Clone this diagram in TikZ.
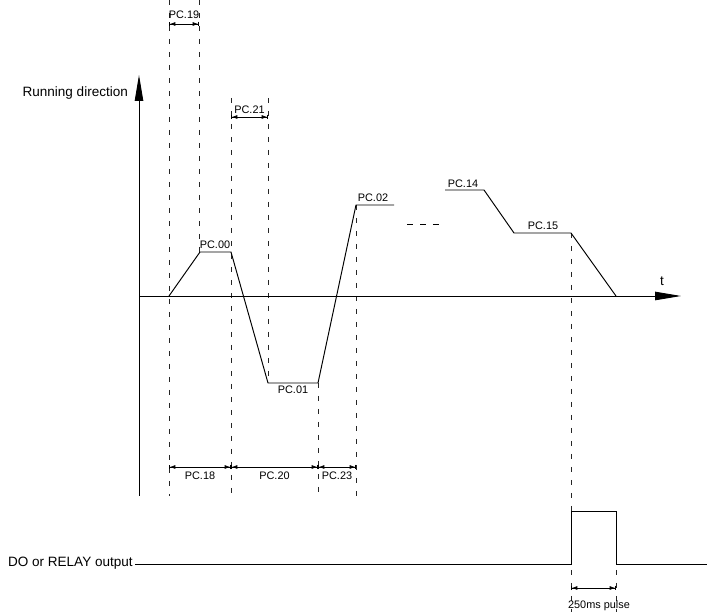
\documentclass[tikz,border=0pt]{standalone}
\usepackage{fontspec}
\setmainfont{Liberation Sans}
\usetikzlibrary{arrows.meta}

\tikzset{
	guide/.style = {line width=0.45pt, black!85, dash pattern=on 0.1cm off 0.16cm},
	wave/.style = {line width=0.55pt},
	axisarrow/.style = {line width=0.5pt, -{Triangle[length=0.52cm,width=0.17cm]}},
	dimline/.style = {line width=0.45pt, {Bar[width=0.09cm]Latex[length=0.11cm,width=0.08cm]}-{Latex[length=0.11cm,width=0.08cm]Bar[width=0.09cm]}},
	biglbl/.style = {font=\fontsize{7.7}{9}\selectfont, inner sep=1pt},
	pclbl/.style = {font=\fontsize{6.2}{7}\selectfont, inner sep=1pt},
}

\begin{document}
\begin{tikzpicture} [x = 0.02cm, y = -0.02cm]
	\useasboundingbox (0,0) rectangle (707,614);
	% dashed guides
	\foreach \gx/\gtop/\gbot in {169/0/496, 199/0/252, 231/98/496, 268/98/383, 318/383/496, 356/205/496, 571/233/511, 571/570/612, 616/570/612}
		\draw [guide] (\gx,\gtop) -- (\gx,\gbot);
	% axes
	\coordinate (orig) at (139,296);
	\coordinate (ytop) at (139,75);
	\coordinate (ybot) at (139,496);
	\coordinate (xend) at (681,296);
	\draw [axisarrow] (ybot) -- (ytop);
	\draw [axisarrow] (orig) -- (xend);
	\node [biglbl, anchor=base east] (dirlbl) at (130,97) {Running direction};
	\node [biglbl] (tlbl) at (662,281) {t};
	% speed curve
	\coordinate (w0) at (169,296);
	\coordinate (w1) at (200,252);
	\coordinate (w2) at (231,252);
	\coordinate (w3) at (268,383);
	\coordinate (w4) at (318,383);
	\coordinate (w5) at (356,205);
	\coordinate (w6) at (394,205);
	\coordinate (w7) at (445,190);
	\coordinate (w8) at (484,190);
	\coordinate (w9) at (514,233);
	\coordinate (w10) at (571,233);
	\coordinate (w11) at (616,296);
	\draw [wave] (w0) -- (w1) -- (w2) -- (w3) -- (w4) -- (w5) -- (w6);
	\draw [wave] (w7) -- (w8) -- (w9) -- (w10) -- (w11);
	\coordinate (gapa) at (407,224);
	\coordinate (gapb) at (439,224);
	\draw [wave, dash pattern=on 0.12cm off 0.14cm] (gapa) -- (gapb);
	\node [pclbl] (pc00) at (215,245) {PC.00};
	\node [pclbl] (pc01) at (293,390) {PC.01};
	\node [pclbl] (pc02) at (373,198) {PC.02};
	\node [pclbl] (pc14) at (463,184) {PC.14};
	\node [pclbl] (pc15) at (543,226) {PC.15};
	% time intervals
	\foreach \xa/\xb/\dy/\ly/\lbl [count=\i] in {169/199/24/15/PC.19, 231/268/117/110/PC.21, 169/231/467/476/PC.18, 231/318/467/476/PC.20, 318/356/467/476/PC.23}
	{
		\coordinate (da\i) at (\xa,\dy);
		\coordinate (db\i) at (\xb,\dy);
		\draw [dimline] (da\i) -- (db\i);
		\node [pclbl] (dimlbl\i) at ({(\xa+\xb)/2},\ly) {\lbl};
	}
	% relay output
	\node [biglbl, anchor=base west] (dolbl) at (6,567) {DO or RELAY output};
	\coordinate (p0) at (571,564);
	\coordinate (p1) at (571,511);
	\coordinate (p2) at (616,511);
	\coordinate (p3) at (616,564);
	\coordinate (doend) at (707,564);
	\draw [wave] (dolbl.east |- p0) -- (p0) -- (p1) -- (p2) -- (p3) -- (doend);
	\coordinate (pa) at (571,588);
	\coordinate (pb) at (616,588);
	\draw [dimline] (pa) -- (pb);
	\node [pclbl, anchor=base] (pulselbl) at (599,609) {250ms pulse};
\end{tikzpicture}
\end{document}
